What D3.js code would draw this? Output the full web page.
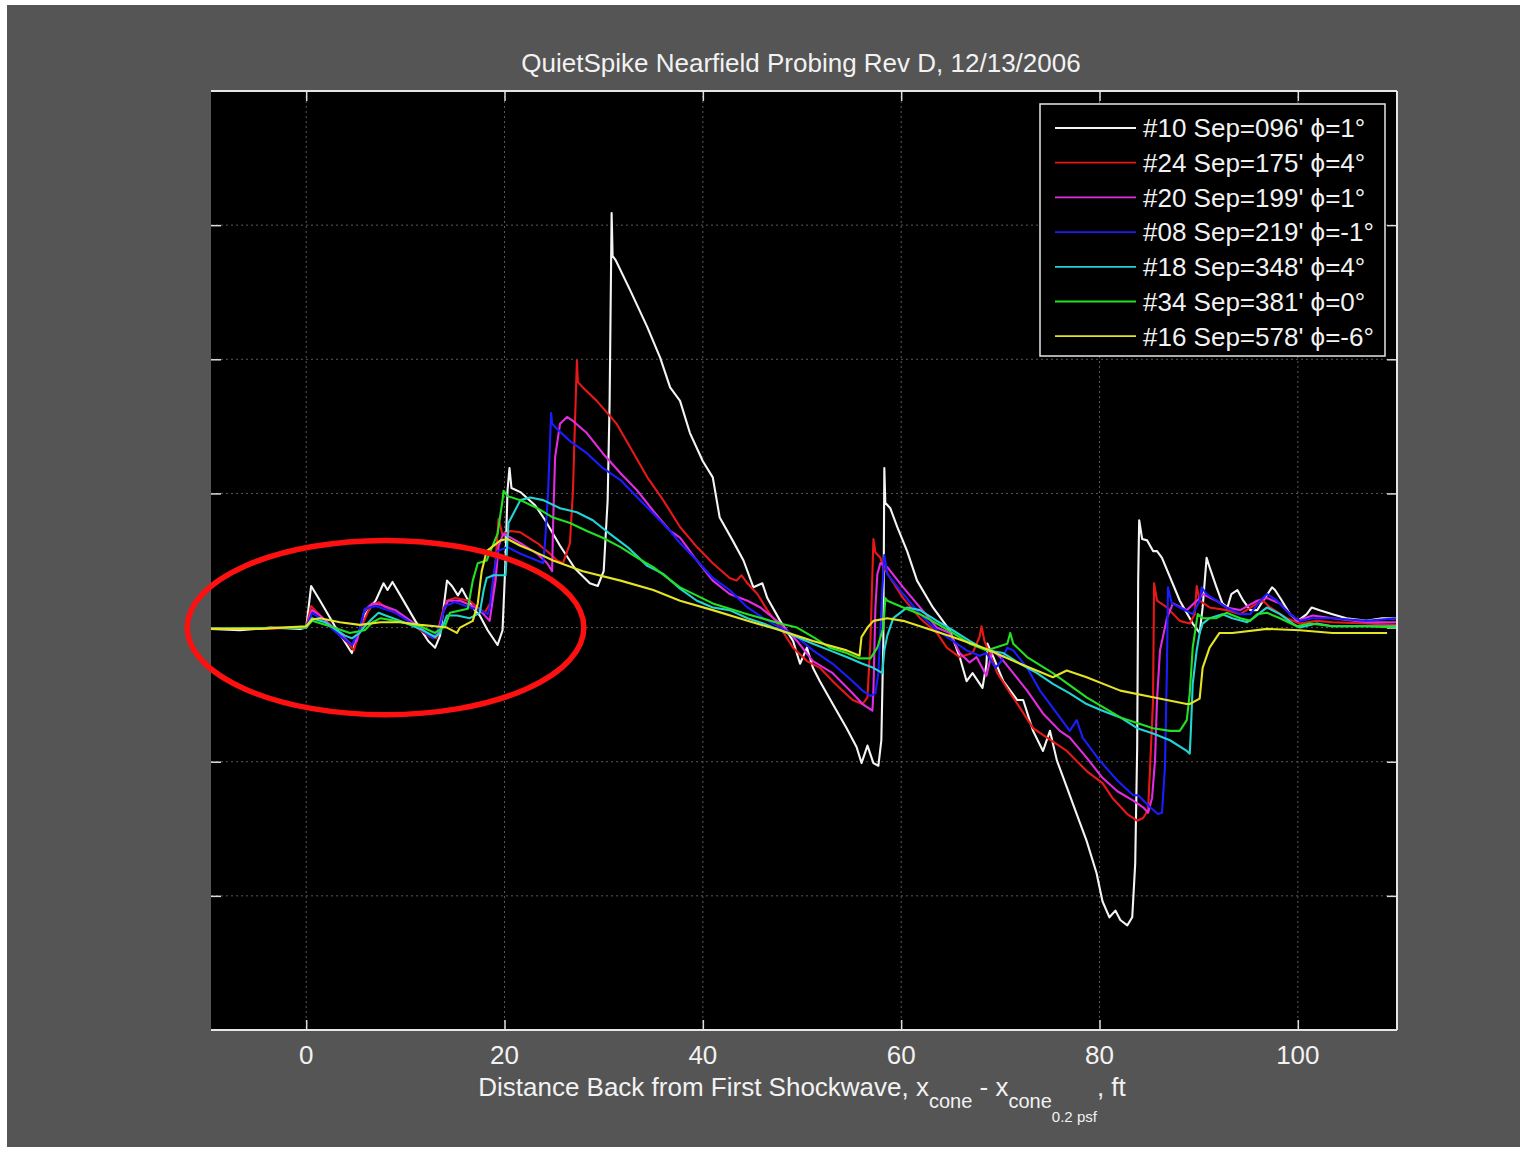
<!DOCTYPE html>
<html>
<head>
<meta charset="utf-8">
<script src="https://cdn.jsdelivr.net/npm/d3@7"></script>
<style>
  html, body { margin: 0; padding: 0; background: #ffffff; }
  svg { display: block; }
  text { font-family: "Liberation Sans", Arial, sans-serif; fill: #f2f2f2; }
</style>
</head>
<body>
<svg id="chart" width="1524" height="1151"></svg>
<script>
// QuietSpike near-field pressure signatures, one probing pass per array.
// x: distance back from the first shock (ft); y: overpressure (plot units).

const seriesNames = [
  "#10 Sep=096' \u03d5=1\u00b0",
  "#24 Sep=175' \u03d5=4\u00b0",
  "#20 Sep=199' \u03d5=1\u00b0",
  "#08 Sep=219' \u03d5=-1\u00b0",
  "#18 Sep=348' \u03d5=4\u00b0",
  "#34 Sep=381' \u03d5=0\u00b0",
  "#16 Sep=578' \u03d5=-6\u00b0"
];

const xTicks = [0, 20, 40, 60, 80, 100];
const yTicks = [-2, -1, 0, 1, 2, 3];

const sep096 = [[-9.6,-0.01],[-6.7,-0.02],[-3.6,0],[-0.6,-0.01],[0,0],[0.5,0.31],[1.4,0.20],[2.9,0.01],[4.6,-0.19],[5.2,-0.06],[5.9,0.09],[7.0,0.20],[7.8,0.33],[8.2,0.28],[8.7,0.34],[9.5,0.24],[11.0,0.05],[12.3,-0.10],[13.0,-0.15],[13.5,-0.06],[14.2,0.35],[14.7,0.31],[15.3,0.24],[15.7,0.29],[16.2,0.22],[17.0,0.13],[17.5,0.09],[18.3,-0.02],[19.3,-0.13],[19.8,-0.02],[20.1,0.50],[20.3,1.02],[20.5,1.19],[20.7,1.04],[21.6,1.01],[23.1,0.91],[24.1,0.80],[25.6,0.61],[27.1,0.44],[28.6,0.33],[29.4,0.31],[30.0,0.42],[30.4,0.95],[30.6,1.69],[30.8,3.09],[30.9,2.77],[31.2,2.74],[32.7,2.51],[34.4,2.24],[35.7,2.01],[36.7,1.79],[37.7,1.69],[38.7,1.45],[40.0,1.24],[41.0,1.12],[41.7,0.82],[43.0,0.65],[44.1,0.50],[45.1,0.30],[46.0,0.33],[46.5,0.22],[47.8,0.05],[49.1,-0.10],[49.8,-0.27],[50.5,-0.15],[51.1,-0.30],[51.8,-0.40],[53.1,-0.57],[54.5,-0.75],[55.5,-0.89],[56.0,-1.01],[56.6,-0.88],[57.2,-1.01],[57.7,-1.03],[58.0,-0.84],[58.2,-0.10],[58.3,1.19],[58.4,0.93],[58.9,0.89],[59.6,0.75],[60.6,0.57],[61.6,0.35],[63.2,0.15],[64.9,-0.02],[65.9,-0.22],[66.6,-0.40],[67.2,-0.34],[68.2,-0.45],[68.6,-0.27],[68.7,-0.12],[69.3,-0.22],[70.3,-0.40],[71.7,-0.54],[72.3,-0.54],[73.3,-0.77],[74.3,-0.92],[75.0,-0.77],[75.7,-0.99],[76.7,-1.19],[77.7,-1.39],[78.7,-1.59],[79.7,-1.83],[80.3,-2.04],[81.0,-2.16],[81.6,-2.11],[82.1,-2.18],[82.8,-2.22],[83.3,-2.16],[83.6,-1.76],[83.8,-0.89],[83.9,0.35],[84.0,0.80],[84.3,0.66],[84.8,0.65],[85.4,0.57],[85.8,0.57],[86.3,0.52],[88.1,0.20],[89.4,0.03],[90.1,-0.04],[90.4,0.15],[90.8,0.52],[91.1,0.45],[91.8,0.30],[92.4,0.18],[92.9,0.15],[93.3,0.25],[93.9,0.28],[94.5,0.20],[95.2,0.13],[95.9,0.13],[96.5,0.20],[97.4,0.30],[97.7,0.28],[98.4,0.20],[99.2,0.10],[100.0,0.05],[100.9,0.10],[101.4,0.15],[102.2,0.13],[103.5,0.10],[104.9,0.07],[106.9,0.05],[108.5,0.07],[109.9,0.07]];

const sep175 = [[-9.6,-0.01],[-4.6,-0.01],[0,0],[0.5,0.16],[1.4,0.09],[2.9,-0.02],[4.4,-0.13],[4.8,-0.17],[5.4,-0.02],[6.5,0.16],[7.3,0.19],[8.0,0.15],[9.5,0.09],[11.5,-0.02],[12.5,-0.07],[13.1,-0.08],[13.8,0.13],[14.2,0.20],[15.0,0.22],[16.5,0.20],[17.3,0.15],[18.0,0.11],[18.7,0.20],[19.1,0.50],[19.4,0.81],[19.8,0.69],[20.6,0.72],[21.6,0.71],[23.3,0.63],[24.6,0.55],[25.3,0.50],[25.9,0.48],[26.6,0.63],[26.9,1.02],[27.1,1.52],[27.3,1.99],[27.4,1.83],[27.9,1.79],[29.3,1.69],[31.3,1.52],[32.7,1.34],[34.4,1.12],[36.0,0.95],[37.7,0.75],[39.4,0.60],[41.0,0.48],[42.7,0.37],[43.4,0.35],[43.9,0.39],[44.5,0.33],[45.5,0.25],[46.5,0.13],[47.8,0],[49.1,-0.15],[50.5,-0.25],[51.8,-0.30],[53.1,-0.40],[53.8,-0.45],[55.1,-0.54],[56.1,-0.57],[56.6,-0.52],[56.9,-0.10],[57.1,0.40],[57.2,0.66],[57.4,0.56],[57.9,0.52],[58.2,0.45],[60.2,0.22],[61.9,0.07],[63.6,-0.04],[64.6,-0.15],[65.9,-0.22],[67.2,-0.19],[67.9,-0.07],[68.1,0.01],[68.4,-0.10],[68.9,-0.19],[69.7,-0.34],[71.0,-0.49],[72.0,-0.60],[73.3,-0.75],[74.7,-0.82],[76.7,-0.92],[78.7,-1.07],[80.3,-1.16],[81.3,-1.27],[82.8,-1.39],[83.8,-1.44],[84.4,-1.42],[84.9,-1.36],[85.1,-1.04],[85.4,-0.54],[85.5,0.33],[85.8,0.20],[86.8,0.15],[88.1,0.05],[89.1,0.03],[89.6,0.10],[89.8,0.31],[90.1,0.20],[91.1,0.15],[92.8,0.13],[94.2,0.10],[95.9,0.18],[96.5,0.20],[97.2,0.15],[98.9,0.07],[100.2,0.03],[101.9,0.05],[103.5,0.04],[106.9,0.03],[109.9,0.02]];

const sep199 = [[-9.6,-0.01],[0,0],[0.6,0.13],[1.4,0.09],[2.9,-0.01],[4.6,-0.13],[5.1,-0.10],[5.9,0.13],[6.7,0.18],[7.5,0.17],[9.0,0.13],[11.5,0],[12.7,-0.07],[13.2,-0.06],[13.8,0.11],[14.3,0.20],[15.5,0.20],[16.5,0.17],[17.5,0.13],[18.5,0.05],[19.1,0.35],[19.4,0.61],[19.9,0.70],[21.6,0.63],[23.3,0.55],[24.3,0.48],[24.8,0.42],[24.9,0.78],[25.1,1.27],[25.6,1.52],[26.3,1.57],[26.9,1.54],[28.3,1.45],[29.9,1.30],[31.7,1.15],[33.4,1.02],[35.0,0.87],[36.7,0.72],[37.7,0.67],[39.4,0.50],[41.0,0.35],[42.7,0.25],[44.5,0.20],[45.8,0.15],[47.8,0.03],[49.5,-0.10],[51.1,-0.25],[53.1,-0.34],[55.1,-0.49],[56.1,-0.57],[57.1,-0.62],[57.2,-0.47],[57.4,0.15],[57.6,0.40],[57.9,0.48],[58.6,0.45],[60.2,0.30],[61.9,0.15],[63.6,0],[64.9,-0.04],[65.9,-0.19],[66.9,-0.26],[67.6,-0.22],[68.6,-0.36],[69.2,-0.17],[70.0,-0.22],[71.3,-0.34],[72.7,-0.47],[74.3,-0.64],[76.0,-0.77],[77.0,-0.82],[78.7,-0.97],[80.3,-1.12],[81.8,-1.22],[83.4,-1.29],[84.4,-1.34],[84.9,-1.38],[85.3,-1.27],[85.6,-0.99],[85.8,-0.54],[86.1,-0.17],[86.8,0.07],[87.4,0.18],[88.8,0.13],[90.1,0.22],[90.4,0.25],[91.8,0.20],[92.8,0.15],[94.2,0.13],[95.9,0.20],[96.9,0.22],[98.2,0.18],[99.9,0.05],[101.5,0.09],[103.5,0.07],[106.9,0.04],[109.9,0.04]];

const sep219 = [[-9.6,-0.01],[0,0],[0.6,0.11],[1.4,0.07],[3.4,-0.06],[4.6,-0.13],[5.4,-0.01],[5.9,0.14],[7.0,0.16],[9.0,0.11],[11.5,-0.01],[12.8,-0.08],[13.5,0.01],[14.0,0.16],[15.0,0.19],[16.5,0.15],[17.5,0.13],[18.3,0.10],[18.5,0.15],[18.9,0.40],[19.3,0.57],[20.3,0.60],[21.6,0.55],[23.3,0.50],[23.9,0.48],[24.1,0.65],[24.4,1.02],[24.7,1.60],[24.8,1.52],[25.3,1.48],[26.6,1.39],[28.3,1.30],[29.9,1.19],[31.7,1.10],[33.4,0.97],[35.0,0.85],[36.7,0.72],[37.7,0.63],[39.4,0.50],[41.0,0.37],[42.7,0.28],[44.5,0.15],[46.1,0.07],[47.8,0],[49.5,-0.07],[51.1,-0.17],[53.1,-0.27],[55.1,-0.40],[56.1,-0.47],[56.9,-0.51],[57.4,-0.49],[57.7,-0.34],[58.1,0.28],[58.3,0.54],[58.6,0.40],[60.2,0.25],[61.9,0.10],[63.6,-0.02],[66.6,-0.17],[67.9,-0.21],[68.6,-0.19],[69.5,-0.30],[70.0,-0.26],[70.7,-0.15],[71.3,-0.17],[72.7,-0.30],[74.0,-0.47],[75.7,-0.64],[77.0,-0.77],[77.7,-0.69],[78.3,-0.82],[80.0,-0.99],[81.8,-1.14],[83.4,-1.25],[83.9,-1.25],[85.1,-1.34],[85.9,-1.39],[86.3,-1.38],[86.6,-1.04],[86.8,-0.30],[86.9,0.30],[87.3,0.18],[88.1,0.15],[89.4,0.10],[90.1,0.20],[90.3,0.30],[90.8,0.25],[91.8,0.20],[92.8,0.15],[94.2,0.10],[95.2,0.10],[96.2,0.20],[96.9,0.25],[97.9,0.20],[99.2,0.10],[100.2,0.05],[101.5,0.07],[103.5,0.07],[106.9,0.05],[109.9,0.07]];

const sep348 = [[-9.6,-0.01],[0,0],[0.6,0.07],[1.9,0.04],[3.9,-0.06],[4.6,-0.08],[5.4,-0.04],[5.9,0.01],[6.7,0.07],[7.3,0.11],[8.0,0.09],[9.5,0.05],[11.5,-0.01],[13.0,-0.07],[13.5,-0.04],[14.2,0.09],[15.2,0.09],[16.5,0.07],[17.5,0.11],[17.9,0.28],[18.2,0.37],[18.9,0.39],[20.1,0.39],[20.4,0.78],[20.9,0.85],[21.6,0.95],[22.6,0.97],[23.9,0.95],[25.6,0.89],[27.3,0.86],[28.9,0.80],[30.6,0.70],[32.4,0.60],[34.4,0.46],[36.0,0.40],[37.7,0.29],[39.4,0.20],[41.0,0.15],[42.7,0.13],[44.5,0.07],[46.1,0.03],[47.8,-0.02],[49.5,-0.07],[51.1,-0.12],[52.8,-0.17],[54.5,-0.22],[56.1,-0.27],[57.2,-0.30],[58.1,-0.34],[58.3,-0.17],[58.6,-0.06],[59.2,0.07],[59.9,0.11],[60.6,0.15],[61.9,0.13],[63.6,0.05],[65.2,-0.02],[66.9,-0.10],[68.6,-0.17],[70.3,-0.19],[72.0,-0.27],[73.7,-0.34],[75.3,-0.42],[77.0,-0.49],[78.7,-0.57],[80.3,-0.62],[82.1,-0.67],[83.8,-0.75],[85.4,-0.79],[87.1,-0.84],[88.8,-0.92],[89.1,-0.94],[89.2,-0.79],[89.4,-0.42],[89.8,-0.17],[90.1,-0.04],[90.4,0.03],[91.1,0.07],[92.4,0.10],[93.4,0.07],[94.9,0.04],[95.5,0.07],[96.9,0.15],[98.2,0.10],[99.5,0.03],[100.2,0],[101.9,0.03],[103.5,0.01],[106.9,0.01],[109.9,0.01]];

const sep381 = [[-9.6,-0.01],[0,0],[0.6,0.05],[2.4,0.01],[4.4,-0.04],[5.9,-0.02],[6.7,0.04],[7.5,0.07],[9.0,0.05],[11.5,0.01],[13.0,-0.04],[14.0,0.01],[14.5,0.11],[16.3,0.14],[16.8,0.35],[17.3,0.48],[18.2,0.50],[19.3,0.70],[19.8,0.95],[19.9,1.02],[20.3,0.98],[21.6,0.95],[23.3,0.89],[24.9,0.82],[26.6,0.78],[28.3,0.72],[29.9,0.67],[31.7,0.60],[33.4,0.52],[35.0,0.45],[37.7,0.30],[41.0,0.18],[44.5,0.10],[47.8,0.03],[49.5,0],[51.1,-0.07],[52.8,-0.15],[54.5,-0.19],[55.8,-0.23],[56.9,-0.23],[57.6,-0.15],[58.2,0],[58.4,0.22],[58.6,0.20],[60.2,0.15],[61.9,0.10],[63.6,0.03],[65.2,-0.04],[66.9,-0.12],[68.6,-0.17],[70.7,-0.12],[71.0,-0.04],[71.3,-0.12],[72.7,-0.22],[75.3,-0.34],[78.7,-0.52],[82.1,-0.67],[85.4,-0.75],[87.1,-0.77],[88.1,-0.77],[88.8,-0.69],[89.1,-0.49],[89.4,-0.15],[89.9,0.10],[90.4,0.07],[91.8,0.07],[92.8,0.11],[94.2,0.07],[95.2,0.05],[95.9,0.10],[96.9,0.11],[98.2,0.07],[99.9,0.01],[101.2,0.03],[103.5,0.01],[106.9,0.01],[109.9,0]];

const sep578 = [[-9.6,-0.01],[-4.6,-0.01],[0,0.01],[0.6,0.06],[1.4,0.07],[3.4,0.04],[5.4,0.02],[7.5,0.04],[9.5,0.04],[11.5,0.02],[13.0,0.01],[14.2,0],[15.2,-0.04],[15.5,0],[16.8,0.05],[17.3,0.18],[17.7,0.42],[18.2,0.57],[19.6,0.65],[20.3,0.66],[21.6,0.61],[22.9,0.57],[24.9,0.50],[27.9,0.42],[31.7,0.35],[35.0,0.28],[37.7,0.20],[41.0,0.13],[44.5,0.05],[47.8,-0.02],[51.1,-0.10],[54.5,-0.17],[55.8,-0.21],[56.0,-0.07],[56.6,0],[57.2,0.05],[58.6,0.07],[60.2,0.05],[61.9,0.01],[65.2,-0.07],[68.6,-0.16],[72.0,-0.27],[75.3,-0.37],[76.7,-0.32],[78.7,-0.37],[82.1,-0.47],[85.4,-0.52],[88.8,-0.57],[89.1,-0.57],[90.1,-0.53],[90.4,-0.30],[91.1,-0.15],[92.1,-0.04],[93.4,-0.04],[96.9,-0.01],[100.2,-0.02],[103.5,-0.04],[109.0,-0.04]];

const seriesValues = [sep096, sep175, sep199, sep219, sep348, sep381, sep578];
const seriesColors = ["#f4f4f4", "#e81818", "#e22ce2", "#1c1cff", "#22d4d4", "#22e022", "#e4e424"];

// Region of interest around the forward (spike) part of the signature.
const noteEllipse = { cx: 8, cy: 0, rx: 20, ry: 0.65 };

const svg = d3.select("#chart");
const W = 1524, H = 1151;
const plot = { left: 211, right: 1397, top: 91, bottom: 1030 };
const FS = 26;

svg.append("rect").attr("x", 0).attr("y", 0).attr("width", W).attr("height", H).attr("fill", "#ffffff");
svg.append("rect").attr("x", 7).attr("y", 5).attr("width", 1513).attr("height", 1142).attr("fill", "#555555");

const x = d3.scaleLinear().domain([-9.6, 110]).range([plot.left, plot.right]);
const y = d3.scaleLinear().domain([-3, 4]).range([plot.bottom, plot.top]);

svg.append("rect")
  .attr("x", plot.left).attr("y", plot.top)
  .attr("width", plot.right - plot.left).attr("height", plot.bottom - plot.top)
  .attr("fill", "#000000");

svg.append("defs").append("clipPath").attr("id", "plotClip")
  .append("rect")
  .attr("x", plot.left).attr("y", plot.top)
  .attr("width", plot.right - plot.left).attr("height", plot.bottom - plot.top);

// dotted grid
const grid = svg.append("g").attr("stroke", "#5a5a5a").attr("stroke-width", 1).attr("stroke-dasharray", "2,3");
grid.selectAll("line.gx").data(xTicks).join("line")
  .attr("x1", d => x(d)).attr("x2", d => x(d))
  .attr("y1", plot.top).attr("y2", plot.bottom);
grid.selectAll("line.gy").data(yTicks).join("line")
  .attr("x1", plot.left).attr("x2", plot.right)
  .attr("y1", d => y(d)).attr("y2", d => y(d));

// inward ticks on all four sides
function ticks(axis, tx, ty) {
  const g = svg.append("g").attr("transform", `translate(${tx},${ty})`).call(axis);
  g.select(".domain").remove();
  g.selectAll(".tick line").attr("stroke", "#dddddd").attr("stroke-width", 1.5);
  g.selectAll(".tick text").remove();
}
ticks(d3.axisTop(x).tickValues(xTicks).tickSize(10), 0, plot.bottom);
ticks(d3.axisBottom(x).tickValues(xTicks).tickSize(10), 0, plot.top);
ticks(d3.axisRight(y).tickValues(yTicks).tickSize(10), plot.left, 0);
ticks(d3.axisLeft(y).tickValues(yTicks).tickSize(10), plot.right, 0);

svg.append("g").selectAll("text").data(xTicks).join("text")
  .attr("x", d => x(d)).attr("y", 1064)
  .attr("text-anchor", "middle").attr("font-size", FS)
  .text(d => d);

// signatures
const line = d3.line().x(d => x(d[0])).y(d => y(d[1]));
const curves = svg.append("g").attr("clip-path", "url(#plotClip)");
curves.selectAll("path").data(seriesValues).join("path")
  .attr("d", line)
  .attr("fill", "none")
  .attr("stroke", (d, i) => seriesColors[i])
  .attr("stroke-width", 2.1)
  .attr("stroke-linejoin", "round");

// frame
const frame = svg.append("g").attr("stroke", "#e6e6e6").attr("stroke-width", 2);
frame.append("line").attr("x1", plot.left).attr("x2", plot.right).attr("y1", plot.top).attr("y2", plot.top);
frame.append("line").attr("x1", plot.left).attr("x2", plot.right).attr("y1", plot.bottom).attr("y2", plot.bottom);
frame.append("line").attr("x1", plot.right).attr("x2", plot.right).attr("y1", plot.top).attr("y2", plot.bottom);

// legend
const lg = svg.append("g");
lg.append("rect").attr("x", 1040).attr("y", 104).attr("width", 345).attr("height", 252)
  .attr("fill", "#000000").attr("stroke", "#e6e6e6").attr("stroke-width", 1.5);
const entries = lg.selectAll("g.entry").data(seriesNames).join("g")
  .attr("transform", (d, i) => `translate(0,${128 + i * 34.7})`);
entries.append("line").attr("x1", 1055).attr("x2", 1136).attr("y1", 0).attr("y2", 0)
  .attr("stroke", (d, i) => seriesColors[i]).attr("stroke-width", 1.8);
entries.append("text").attr("x", 1143).attr("y", 9.3).attr("font-size", FS).text(d => d);

// title
svg.append("text").attr("x", 801).attr("y", 72).attr("text-anchor", "middle")
  .attr("font-size", FS).text("QuietSpike Nearfield Probing Rev D, 12/13/2006");

// x-axis label with subscripts
const xl = svg.append("text").attr("x", 802).attr("y", 1096).attr("text-anchor", "middle").attr("font-size", FS);
xl.append("tspan").text("Distance Back from First Shockwave, x");
xl.append("tspan").attr("dy", 12).attr("font-size", 20).text("cone");
xl.append("tspan").attr("dy", -12).text(" - x");
xl.append("tspan").attr("dy", 12).attr("font-size", 20).text("cone");
xl.append("tspan").attr("dy", 14).attr("font-size", 15).text("0.2 psf");
xl.append("tspan").attr("dy", -26).text(", ft");

// highlight ellipse
svg.append("ellipse")
  .attr("cx", x(noteEllipse.cx)).attr("cy", y(noteEllipse.cy))
  .attr("rx", x(noteEllipse.cx + noteEllipse.rx) - x(noteEllipse.cx))
  .attr("ry", y(noteEllipse.cy) - y(noteEllipse.cy + noteEllipse.ry))
  .attr("fill", "none").attr("stroke", "#ff1010").attr("stroke-width", 5.5);
</script>
</body>
</html>
